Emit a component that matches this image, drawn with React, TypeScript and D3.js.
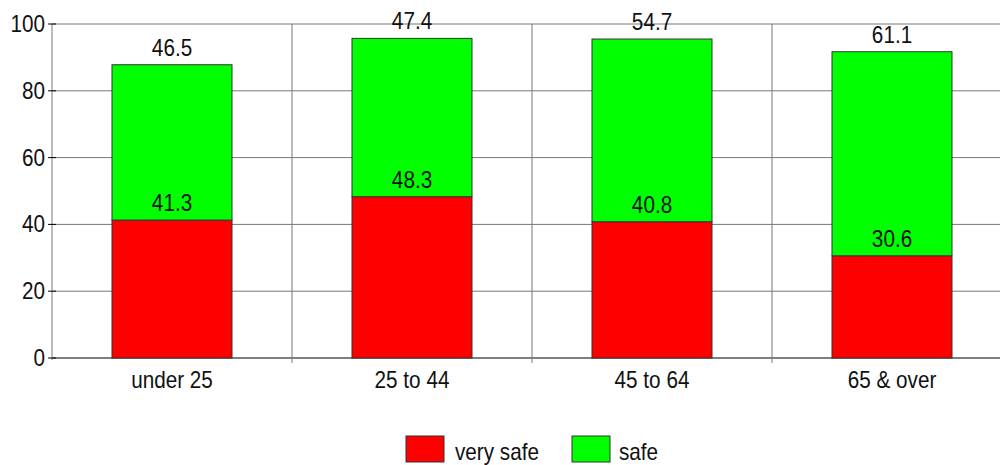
import React from "react";
import * as d3 from "d3";

const categories = ["under 25", "25 to 44", "45 to 64", "65 & over"];
const verySafe = [41.3, 48.3, 40.8, 30.6];
const safe = [46.5, 47.4, 54.7, 61.1];
const seriesNames = ["very safe", "safe"];
const seriesColors = ["#ff0000", "#00ff00"];
const yTicks = [0, 20, 40, 60, 80, 100];

const FONT = "'Liberation Sans', Arial, sans-serif";
const SX = 0.9;
const FS = 23;

function T(props: { x: number; y: number; anchor?: string; children: any }) {
  return (
    <text
      transform={`translate(${props.x},${props.y}) scale(${SX},1)`}
      textAnchor={props.anchor || "middle"}
      fontSize={FS}
      fill="#111"
    >
      {props.children}
    </text>
  );
}

export default function App() {
  const W = 1000, H = 465;
  const left = 52, top = 24, bottom = 358, right = 1012;
  const x = d3.scaleBand<string>().domain(categories).range([left, right]).paddingInner(0).paddingOuter(0);
  const y = d3.scaleLinear().domain([0, 100]).range([bottom, top]);
  const bw = x.bandwidth() / 2;

  const stack = d3.stack<any>().keys(["very safe", "safe"])(
    categories.map((c, i) => ({ cat: c, "very safe": verySafe[i], safe: safe[i] }))
  );

  return (
    <svg width={W} height={H} style={{ position: "absolute", left: 0, top: 0 }} fontFamily={FONT}>
      {yTicks.map((t) => (
        <line key={"g" + t} x1={left} x2={right} y1={y(t)} y2={y(t)} stroke={t === 0 ? "#000" : "#777"} strokeWidth={1} />
      ))}
      {categories.slice(1).map((c) => (
        <line key={"v" + c} x1={x(c)!} x2={x(c)!} y1={top} y2={bottom + 5} stroke="#777" strokeWidth={1} />
      ))}
      <line x1={left} x2={left} y1={top} y2={bottom + 2} stroke="#777" strokeWidth={1} />
      {yTicks.map((t) => (
        <g key={"t" + t}>
          <line x1={left - 4} x2={left + 4} y1={y(t)} y2={y(t)} stroke="#000" strokeWidth={1} />
          <T x={left - 7} y={y(t) + 8} anchor="end">{t}</T>
        </g>
      ))}
      {stack.map((s, si) =>
        s.map((d, i) => {
          const cx = x(categories[i])! + x.bandwidth() / 2;
          return (
            <rect key={si + "-" + i} x={cx - bw / 2} y={y(d[1])} width={bw} height={y(d[0]) - y(d[1])} fill={seriesColors[si]} stroke="#333" strokeWidth={1} />
          );
        })
      )}
      {stack.map((s, si) =>
        s.map((d, i) => {
          const cx = x(categories[i])! + x.bandwidth() / 2;
          return (
            <T key={"l" + si + "-" + i} x={cx} y={y(d[1]) - 9}>
              {(si === 0 ? verySafe : safe)[i].toFixed(1)}
            </T>
          );
        })
      )}
      {categories.map((c) => (
        <T key={"x" + c} x={x(c)! + x.bandwidth() / 2} y={388}>{c}</T>
      ))}
      <g>
        <rect x={406} y={436} width={38} height={26} fill={seriesColors[0]} stroke="#333" />
        <T x={455} y={460} anchor="start">{seriesNames[0]}</T>
        <rect x={572} y={436} width={38} height={26} fill={seriesColors[1]} stroke="#333" />
        <T x={619} y={460} anchor="start">{seriesNames[1]}</T>
      </g>
    </svg>
  );
}
